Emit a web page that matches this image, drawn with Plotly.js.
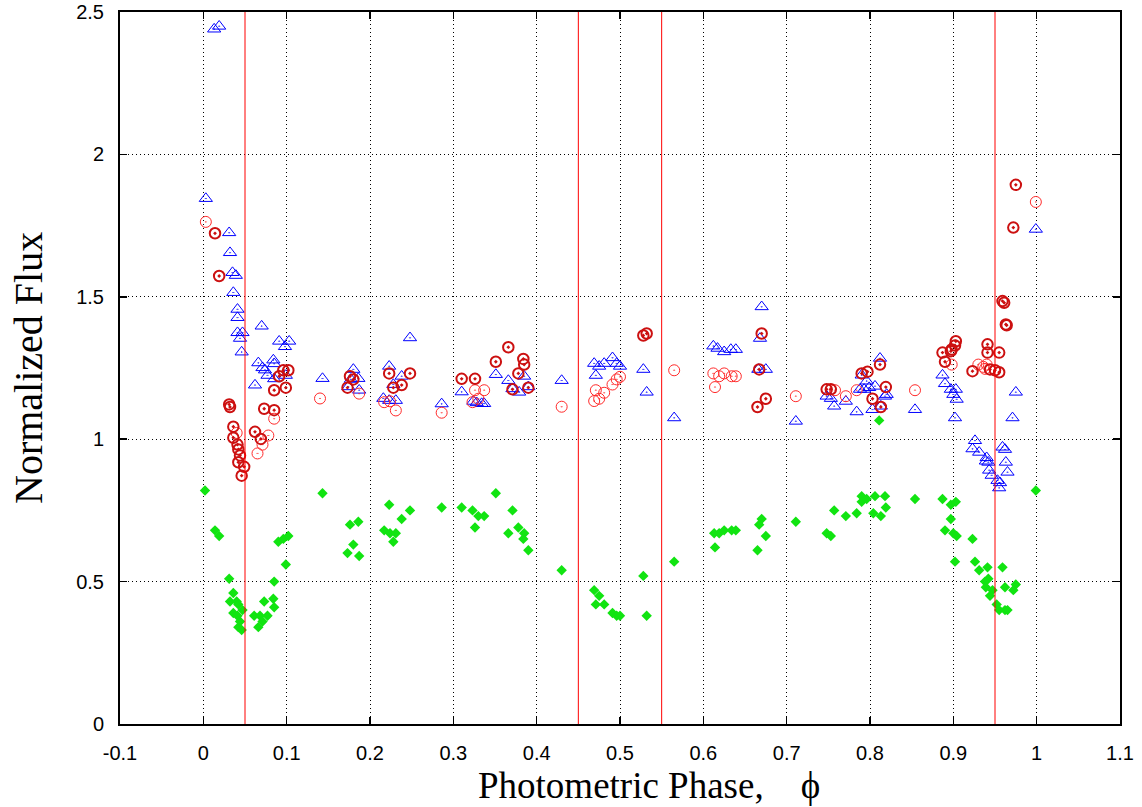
<!DOCTYPE html>
<html>
<head>
<meta charset="utf-8">
<script src="https://cdn.plot.ly/plotly-3.0.1.min.js"></script>
<style>html,body{margin:0;padding:0;background:#fff;}#chart{width:1142px;height:807px;}</style>
</head>
<body>
<div id="chart"></div>
<script>
// ---- Data (phase, normalized flux) ----
var blueX = [0.003,0.013,0.019,0.031,0.032,0.035,0.039,0.036,0.041,0.041,0.070,0.041,0.047,0.044,0.046,0.091,0.103,0.098,0.066,0.084,0.085,0.071,0.074,0.077,0.085,0.099,0.062,0.143,0.180,0.174,0.186,0.187,0.177,0.223,0.228,0.238,0.216,0.223,0.231,0.248,0.286,0.310,0.324,0.328,0.334,0.337,0.351,0.366,0.385,0.371,0.379,0.390,0.430,0.469,0.475,0.481,0.491,0.496,0.500,0.471,0.528,0.532,0.565,0.612,0.617,0.625,0.633,0.639,0.670,0.668,0.666,0.675,0.711,0.748,0.753,0.757,0.771,0.784,0.790,0.796,0.788,0.793,0.799,0.806,0.803,0.812,0.818,0.820,0.813,0.854,0.887,0.890,0.897,0.903,0.900,0.904,0.902,0.926,0.923,0.931,0.940,0.939,0.942,0.943,0.946,0.953,0.956,0.955,0.959,0.962,0.963,0.965,0.975,0.971,0.999];
var blueY = [1.845,2.44,2.45,1.725,1.655,1.585,1.575,1.515,1.456,1.427,1.397,1.374,1.374,1.354,1.306,1.344,1.344,1.325,1.268,1.278,1.265,1.251,1.243,1.224,1.212,1.224,1.190,1.213,1.245,1.184,1.213,1.172,1.21,1.256,1.192,1.221,1.143,1.136,1.136,1.356,1.124,1.166,1.133,1.128,1.125,1.125,1.227,1.206,1.221,1.177,1.165,1.184,1.206,1.266,1.256,1.266,1.286,1.266,1.256,1.224,1.245,1.165,1.075,1.327,1.319,1.307,1.315,1.315,1.465,1.354,1.245,1.245,1.063,1.151,1.143,1.116,1.133,1.096,1.225,1.204,1.175,1.175,1.181,1.186,1.104,1.284,1.151,1.157,1.116,1.104,1.225,1.195,1.175,1.175,1.157,1.140,1.075,0.995,0.966,0.954,0.935,0.923,0.919,0.891,0.873,0.855,0.847,0.829,0.972,0.964,0.919,0.884,1.165,1.075,1.737];

var darkRedX = [0.014,0.019,0.031,0.032,0.036,0.036,0.041,0.042,0.044,0.042,0.049,0.046,0.062,0.069,0.073,0.085,0.085,0.099,0.091,0.096,0.102,0.176,0.173,0.180,0.223,0.248,0.238,0.228,0.310,0.326,0.351,0.366,0.384,0.385,0.378,0.371,0.390,0.528,0.532,0.670,0.667,0.675,0.665,0.748,0.753,0.790,0.797,0.803,0.812,0.819,0.813,0.975,0.972,0.959,0.961,0.963,0.964,0.903,0.902,0.898,0.897,0.887,0.890,0.941,0.941,0.955,0.923,0.944,0.950,0.955];
var darkRedY = [1.723,1.573,1.122,1.113,1.044,1.005,0.981,0.964,0.943,0.919,0.903,0.872,1.026,1.001,1.107,1.102,1.172,1.181,1.221,1.242,1.242,1.221,1.181,1.21,1.231,1.231,1.190,1.181,1.212,1.212,1.272,1.323,1.282,1.262,1.231,1.175,1.181,1.364,1.371,1.371,1.245,1.142,1.113,1.175,1.175,1.231,1.237,1.142,1.262,1.183,1.113,1.893,1.743,1.485,1.479,1.403,1.400,1.344,1.329,1.315,1.309,1.304,1.272,1.333,1.304,1.304,1.239,1.245,1.242,1.235];

var lightRedX = [0.003,0.040,0.078,0.071,0.065,0.085,0.140,0.187,0.217,0.224,0.231,0.286,0.326,0.337,0.323,0.330,0.430,0.471,0.469,0.475,0.481,0.491,0.496,0.500,0.565,0.612,0.619,0.625,0.634,0.639,0.614,0.711,0.758,0.771,0.784,0.854,0.999,0.898,0.930,0.936,0.940,0.938];
var lightRedY = [1.763,1.022,1.013,0.981,0.950,1.072,1.143,1.160,1.130,1.133,1.101,1.093,1.172,1.172,1.130,1.142,1.114,1.172,1.134,1.142,1.163,1.192,1.21,1.219,1.242,1.231,1.221,1.231,1.221,1.221,1.183,1.151,1.172,1.151,1.172,1.172,1.833,1.262,1.262,1.254,1.262,1.247];

var greenX = [0.002,0.014,0.019,0.031,0.036,0.032,0.040,0.042,0.047,0.036,0.041,0.042,0.046,0.044,0.061,0.068,0.073,0.077,0.071,0.066,0.085,0.084,0.085,0.090,0.096,0.102,0.099,0.143,0.176,0.186,0.180,0.173,0.187,0.223,0.217,0.224,0.231,0.228,0.238,0.248,0.286,0.310,0.323,0.330,0.337,0.326,0.351,0.371,0.366,0.378,0.385,0.384,0.390,0.430,0.469,0.475,0.471,0.481,0.491,0.496,0.500,0.528,0.532,0.565,0.613,0.619,0.625,0.634,0.639,0.614,0.670,0.667,0.675,0.665,0.711,0.748,0.753,0.757,0.771,0.784,0.790,0.790,0.796,0.806,0.818,0.804,0.813,0.819,0.854,0.811,0.887,0.897,0.903,0.897,0.890,0.900,0.904,0.923,0.902,0.926,0.931,0.941,0.959,0.942,0.938,0.939,0.947,0.944,0.962,0.975,0.972,0.952,0.955,0.962,0.965,0.999];
var greenY = [0.82,0.68,0.66,0.51,0.46,0.43,0.43,0.42,0.40,0.39,0.38,0.34,0.33,0.36,0.38,0.38,0.43,0.38,0.36,0.34,0.50,0.44,0.41,0.64,0.65,0.66,0.56,0.81,0.70,0.71,0.63,0.60,0.59,0.77,0.68,0.67,0.67,0.64,0.72,0.75,0.76,0.76,0.75,0.73,0.73,0.69,0.81,0.75,0.67,0.69,0.67,0.65,0.61,0.54,0.47,0.45,0.42,0.42,0.39,0.38,0.38,0.52,0.38,0.57,0.67,0.67,0.68,0.68,0.68,0.62,0.72,0.70,0.66,0.61,0.71,0.67,0.66,0.75,0.73,0.74,0.80,0.78,0.79,0.80,0.80,0.74,0.73,0.76,0.79,1.066,0.79,0.77,0.78,0.72,0.68,0.67,0.66,0.65,0.57,0.57,0.54,0.55,0.55,0.51,0.50,0.48,0.47,0.45,0.48,0.49,0.47,0.42,0.40,0.40,0.40,0.82];

var phaseMarks = [0.05, 0.45, 0.55, 0.95];

var xTickVals = [-0.1,0,0.1,0.2,0.3,0.4,0.5,0.6,0.7,0.8,0.9,1.0,1.1];
var xTickText = ["-0.1","0","0.1","0.2","0.3","0.4","0.5","0.6","0.7","0.8","0.9","1","1.1"];
var yTickVals = [0,0.5,1,1.5,2,2.5];
var yTickText = ["0","0.5","1","1.5","2","2.5"];

var xTitle = "Photometric Phase,\u00a0\u00a0\u00a0\u00a0\u03d5";
var yTitle = "Normalized Flux";

// ---- Traces ----
var traces = [
  {x: blueX, y: blueY, mode: 'markers', type: 'scatter',
   marker: {symbol: 'triangle-up-open-dot', size: 11.5, color: '#0000ff', line: {width: 1, color: '#0000ff'}}},
  {x: lightRedX, y: lightRedY, mode: 'markers', type: 'scatter',
   marker: {symbol: 'circle-open-dot', size: 11, color: '#ff2a2a', line: {width: 1, color: '#ff2a2a'}}},
  {x: darkRedX, y: darkRedY, mode: 'markers', type: 'scatter',
   marker: {symbol: 'circle-open-dot', size: 10.5, color: '#cc1010', line: {width: 2, color: '#cc1010'}}},
  {x: greenX, y: greenY, mode: 'markers', type: 'scatter',
   marker: {symbol: 'diamond', size: 8, color: '#11e411', line: {width: 0}}}
];

var shapes = phaseMarks.map(function (p) {
  return {type: 'line', xref: 'x', yref: 'paper', x0: p, x1: p, y0: 0, y1: 1,
          line: {color: '#ff0000', width: 1}, layer: 'above'};
});

var axisCommon = {
  showline: true, linecolor: '#000', linewidth: 2, mirror: 'allticks',
  ticks: 'inside', ticklen: 7, tickwidth: 1.5, tickcolor: '#000',
  showgrid: true, gridcolor: '#000', gridwidth: 1, griddash: '1px,3px',
  zeroline: false,
  tickfont: {family: 'Liberation Sans, Arial, sans-serif', size: 20, color: '#000'}
};

var layout = {
  width: 1142, height: 807,
  margin: {l: 120, r: 22, t: 12, b: 83, pad: 0},
  paper_bgcolor: '#fff', plot_bgcolor: '#fff',
  showlegend: false,
  xaxis: Object.assign({}, axisCommon, {
    range: [-0.1, 1.1], tickmode: 'array', tickvals: xTickVals, ticktext: xTickText,
    ticklabelstandoff: 10
  }),
  yaxis: Object.assign({}, axisCommon, {
    range: [0, 2.5], tickmode: 'array', tickvals: yTickVals, ticktext: yTickText,
    ticklabelstandoff: 10
  }),
  shapes: shapes,
  annotations: [
    {text: xTitle, xref: 'paper', yref: 'paper', x: 0.529, y: -0.0865,
     xanchor: 'center', yanchor: 'middle', showarrow: false, borderpad: 0,
     font: {family: 'Liberation Serif, Times New Roman, serif', size: 37, color: '#000'}},
    {text: yTitle, xref: 'paper', yref: 'paper', x: -0.092, y: 0.5, textangle: -90,
     xanchor: 'center', yanchor: 'middle', showarrow: false,
     font: {family: 'Liberation Serif, Times New Roman, serif', size: 40, color: '#000'}}
  ]
};

Plotly.newPlot('chart', traces, layout, {displayModeBar: false, staticPlot: true});
</script>
</body>
</html>
